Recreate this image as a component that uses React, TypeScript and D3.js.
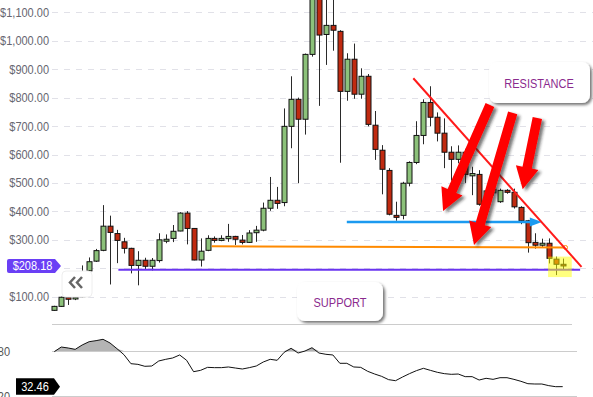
import React from "react";
import * as d3 from "d3";

// weekly candles (index 0 = first candle on the left)
const opens = [52, 66, 98, 92, 100, 191, 225, 263, 348, 322, 293, 270, 210, 228, 207, 227, 295, 305, 331, 394,
  340, 229, 263, 305, 298, 304, 312, 299, 291, 325, 334, 411, 439, 431, 699, 794, 724, 952, 1250, 1022,
  1054, 1033, 822, 935, 812, 875, 703, 615, 544, 386, 386, 499, 572, 667, 783, 731, 675, 608, 583, 608,
  525, 530, 425, 465, 434, 474, 467, 414, 367, 291, 281, 288, 232, 214];
const highs = [68, 100, 100, 99, 210, 238, 268, 422, 385, 335, 307, 272, 260, 237, 236, 323, 319, 352, 397, 401,
  341, 305, 316, 312, 316, 356, 314, 317, 334, 349, 431, 521, 486, 762, 875, 800, 955, 1320, 1350, 1200,
  1180, 1037, 956, 990, 903, 883, 753, 633, 552, 434, 504, 576, 717, 794, 840, 748, 727, 629, 632, 620,
  557, 545, 480, 482, 480, 478, 480, 418, 370, 323, 304, 305, 241, 234];
const lows = [50, 64, 71, 88, 98, 186, 222, 260, 143, 218, 252, 182, 140, 194, 192, 220, 288, 292, 330, 284,
  228, 206, 260, 290, 295, 293, 282, 284, 289, 293, 330, 402, 409, 418, 622, 499, 670, 944, 771, 915,
  965, 571, 789, 796, 796, 699, 581, 460, 386, 367, 372, 488, 566, 636, 699, 646, 552, 508, 569, 500,
  457, 420, 420, 455, 430, 462, 410, 355, 255, 269, 275, 217, 176, 194];
const closes = [66, 98, 91, 98, 125, 223, 262, 348, 326, 298, 270, 210, 228, 207, 228, 300, 302, 330, 394, 340,
  229, 260, 305, 298, 305, 312, 302, 291, 324, 334, 411, 439, 428, 699, 794, 724, 952, 1250, 1020, 1054,
  1037, 822, 935, 812, 875, 706, 618, 548, 390, 379, 499, 572, 667, 783, 731, 675, 608, 583, 608, 530,
  533, 425, 472, 478, 474, 467, 416, 367, 290, 281, 288, 235, 214, 208.18];

const rsiValues = [79.1, 85.3, 84.0, 82.2, 88.0, 92.4, 93.8, 95.6, 90.7, 83.1, 75.1, 63.1, 62.2, 59.6, 60.0,
  66.7, 68.9, 70.7, 74.7, 67.6, 52.4, 54.2, 58.2, 57.8, 57.8, 58.7, 57.3, 56.0, 57.8, 60.0, 65.3, 68.9,
  67.6, 78.2, 83.6, 77.3, 80.0, 84.4, 77.3, 75.6, 74.7, 63.6, 63.6, 58.7, 58.2, 52.9, 49.3, 46.2, 41.8,
  40.4, 45.3, 49.8, 53.8, 56.9, 54.2, 51.6, 49.8, 48.9, 49.3, 45.8, 45.8, 41.3, 43.6, 42.2, 44.4, 44.4,
  42.2, 39.6, 36.4, 36.0, 36.0, 33.8, 32.4, 32.46];

const priceTicks = [100, 200, 300, 400, 500, 600, 700, 800, 900, 1000, 1100];
const rsiTicks = [80, 20];

// drawn annotations, in [candle index, price]
const supportLine = [[9.2, 195], [75.5, 195]];
const orangeLine = [[22.6, 277], [73.4, 273]];
const blueLine = [[42, 363], [70, 363]];
const resistanceLine = [[51.55, 868], [75.7, 205]];
const redArrows = [
  [[62.56, 774], [55.82, 401]],
  [[65.82, 746], [60.27, 282]],
  [[69.36, 728], [67.26, 478]],
];
const highlightBox = [[70.9, 241], [74.3, 169]];

const W = 593;
const H = 397;
const FONT = "'Liberation Sans', Arial, sans-serif";

// screenshot text looks horizontally squeezed, so squeeze ours a bit too
function Txt(props: { x: number; y: number; anchor?: string; size?: number; fill: string; children: any }) {
  const { x, y, anchor = "start", size = 12.5, fill, children } = props;
  return (
    <text transform={`translate(${x},${y}) scale(0.88,1)`} textAnchor={anchor} fontSize={size} fill={fill}>
      {children}
    </text>
  );
}

function arrowPath(x1: number, y1: number, x2: number, y2: number, shaft: number, headW: number, headL: number) {
  const dx = x2 - x1, dy = y2 - y1;
  const len = Math.sqrt(dx * dx + dy * dy);
  const ux = dx / len, uy = dy / len;
  const px = -uy, py = ux;
  const bx = x2 - ux * headL, by = y2 - uy * headL;
  const pts = [
    [x1 + px * shaft / 2, y1 + py * shaft / 2],
    [bx + px * shaft / 2, by + py * shaft / 2],
    [bx + px * headW / 2, by + py * headW / 2],
    [x2, y2],
    [bx - px * headW / 2, by - py * headW / 2],
    [bx - px * shaft / 2, by - py * shaft / 2],
    [x1 - px * shaft / 2, y1 - py * shaft / 2],
  ];
  return "M" + pts.map(p => p[0].toFixed(1) + "," + p[1].toFixed(1)).join("L") + "Z";
}

export default function App() {
  const x = d3.scaleLinear().domain([0, 73]).range([54.3, 562.7]);
  const y = d3.scaleLinear().domain([100, 1100]).range([296.7, 12.3]);
  const yR = d3.scaleLinear().domain([20, 80]).range([396, 351]);

  const bodyW = 5;
  const idx = d3.range(opens.length);

  const rsiLine = d3.line<number>().x((d, i) => x(i)).y(d => yR(d))(rsiValues) || "";
  const rsiArea = d3.area<number>().x((d, i) => x(i)).y0(yR(80)).y1(d => yR(Math.max(d, 80)))(rsiValues) || "";

  const lastPrice = closes[closes.length - 1];
  const lastRsi = rsiValues[rsiValues.length - 1];
  const lp = y(lastPrice);
  const lr = yR(lastRsi);

  const bx1 = x(blueLine[0][0]), bx2 = x(blueLine[1][0]), by = y(blueLine[0][1]);

  return (
    <svg width={W} height={H} style={{ position: "absolute", left: 0, top: 0, background: "#fff" }}
      fontFamily={FONT}>
      <defs>
        <filter id="shadow" x="-20%" y="-20%" width="150%" height="150%">
          <feDropShadow dx="2" dy="2" stdDeviation="1.5" floodColor="#000" floodOpacity="0.55" />
        </filter>
        <filter id="ashadow" x="-30%" y="-30%" width="160%" height="160%">
          <feDropShadow dx="3" dy="2" stdDeviation="1.5" floodColor="#222" floodOpacity="0.6" />
        </filter>
      </defs>

      {/* price grid; the label under the last-price tag is covered, so skip it */}
      {priceTicks.map(t => (
        <g key={t}>
          <line x1={52} x2={W} y1={Math.round(y(t)) + 0.5} y2={Math.round(y(t)) + 0.5}
            stroke="#e1e1e8" strokeDasharray="6,6" />
          {Math.abs(y(t) - lp) > 10 &&
            <Txt x={49} y={y(t) + 4.5} anchor="end" fill="#666670">{d3.format("$,.2f")(t)}</Txt>}
        </g>
      ))}

      {/* candles */}
      {idx.map(i => {
        const o = opens[i], c = closes[i];
        const up = c >= o;
        const cx = Math.round(x(i)) + 0.5;
        const top = y(Math.max(o, c));
        const h = Math.max(1.5, y(Math.min(o, c)) - top);
        return (
          <g key={i}>
            <line x1={cx} x2={cx} y1={y(highs[i])} y2={y(lows[i])} stroke="#2a2a2a" strokeWidth={1} />
            <rect x={cx - bodyW / 2} y={top} width={bodyW} height={h}
              fill={up ? "#8cc17a" : "#c02a10"} stroke="#111" strokeWidth={1} />
          </g>
        );
      })}

      {/* horizontal levels */}
      <line x1={x(orangeLine[0][0])} x2={x(orangeLine[1][0])} y1={y(orangeLine[0][1])} y2={y(orangeLine[1][1])}
        stroke="#ff8a00" strokeWidth={2} />
      <circle cx={x(orangeLine[1][0])} cy={y(orangeLine[1][1])} r={2} fill="#fff" stroke="#ff8a00" strokeWidth={1} />
      <line x1={x(supportLine[0][0])} x2={x(supportLine[1][0])} y1={y(supportLine[0][1])} y2={y(supportLine[1][1])}
        stroke="#6a34f0" strokeWidth={2} />
      <line x1={bx1} x2={bx2 - 11} y1={by} y2={by} stroke="#1b9af0" strokeWidth={2.5} />
      <path d={`M${bx2 - 12},${by - 4.5}L${bx2},${by}L${bx2 - 12},${by + 4.5}Z`} fill="#1b9af0" />

      {/* resistance trend line */}
      <line x1={x(resistanceLine[0][0])} y1={y(resistanceLine[0][1])}
        x2={x(resistanceLine[1][0])} y2={y(resistanceLine[1][1])} stroke="#ff1a1a" strokeWidth={2} />

      {/* highlight on last candles */}
      <rect x={x(highlightBox[0][0])} y={y(highlightBox[0][1])}
        width={x(highlightBox[1][0]) - x(highlightBox[0][0])} height={y(highlightBox[1][1]) - y(highlightBox[0][1])}
        fill="#ffff00" fillOpacity={0.5} />

      {/* big red arrows */}
      {redArrows.map((a, i) => (
        <path key={i} d={arrowPath(x(a[0][0]), y(a[0][1]), x(a[1][0]), y(a[1][1]), 9.5, 23, 22)}
          fill="#ff0000" filter="url(#ashadow)" />
      ))}

      {/* note boxes */}
      <g filter="url(#shadow)">
        <rect x={489} y={62} width={101} height={41} rx={8} fill="#fff" />
        <rect x={297} y={282} width={86} height={39} rx={8} fill="#fff" />
      </g>
      <Txt x={539} y={87.5} anchor="middle" size={12.5} fill="#8a2a8e">RESISTANCE</Txt>
      <Txt x={340} y={306.5} anchor="middle" size={12.5} fill="#8a2a8e">SUPPORT</Txt>

      {/* last price tag */}
      <path d={`M7,${lp - 5}q0,-2 2,-2H55L61,${lp}L55,${lp + 7}H9q-2,0 -2,-2Z`} fill="#6a3ff5" />
      <Txt x={32.5} y={lp + 4.5} anchor="middle" fill="#fff">{"$" + lastPrice.toFixed(2)}</Txt>

      {/* scroll button */}
      <rect x={62} y={271} width={30} height={26} rx={4} fill="#fff" stroke="#eeeeee" />
      <polyline points="75,277 70,282.5 75,288" fill="none" stroke="#666" strokeWidth={2.5} />
      <polyline points="82,277 77,282.5 82,288" fill="none" stroke="#666" strokeWidth={2.5} />

      {/* RSI panel */}
      <line x1={52} x2={572} y1={324.5} y2={324.5} stroke="#cccccc" />
      <path d={rsiArea} fill="#b4b4b4" />
      {rsiTicks.map(t => (
        <g key={t}>
          <line x1={52} x2={577} y1={Math.round(yR(t)) + 0.5} y2={Math.round(yR(t)) + 0.5} stroke="#cccccc" />
          <Txt x={10} y={yR(t) + 4.5} anchor="end" fill="#555">{String(t)}</Txt>
        </g>
      ))}
      <path d={rsiLine} fill="none" stroke="#111" strokeWidth={1} />
      <path d={`M16,${lr - 8.5}H54L60,${lr}L54,${lr + 8}H16Z`} fill="#000" />
      <Txt x={35} y={lr + 4.5} anchor="middle" fill="#fff">{lastRsi.toFixed(2)}</Txt>
    </svg>
  );
}
